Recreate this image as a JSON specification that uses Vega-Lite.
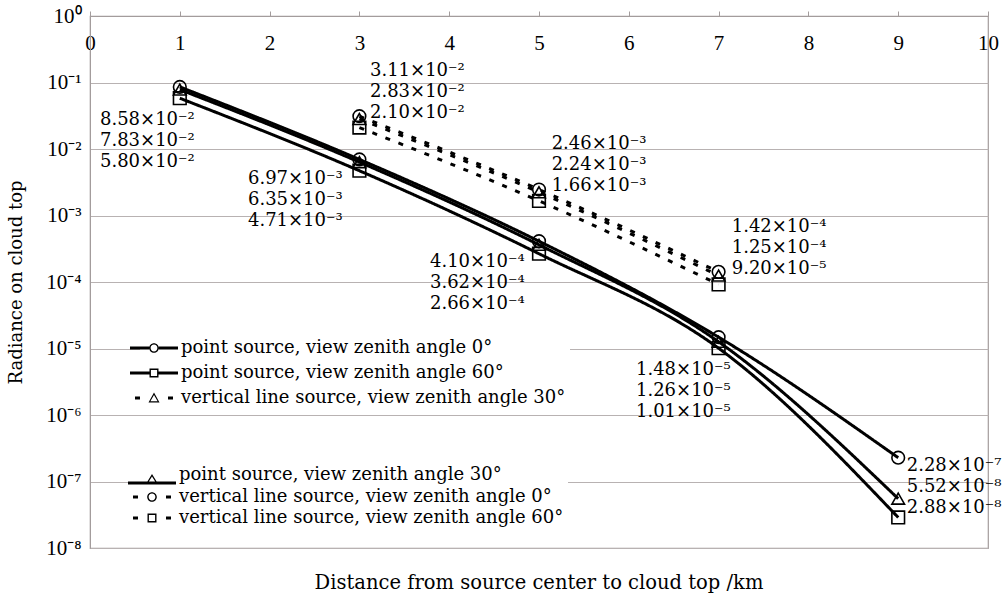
{
  "$schema": "https://vega.github.io/schema/vega-lite/v6.json",
  "width": 898,
  "height": 532,
  "autosize": {"type": "none"},
  "padding": {"left": 90, "top": 16, "right": 20, "bottom": 49},
  "background": "white",
  "config": {"view": {"stroke": "#a39c9c", "strokeWidth": 1.2}, "font": "Liberation Serif"},
  "title": {"text": "Distance from source center to cloud top /km", "orient": "bottom", "anchor": "middle", "frame": "group", "font": "DejaVu Serif", "fontSize": 19.5, "fontWeight": "normal", "color": "black", "offset": 16},
  "datasets": {
    "series": [
      {"x": 1, "y": 0.0858, "source": "point", "angle": 0, "series": "point source, view zenith angle 0°"},
      {"x": 3, "y": 0.00697, "source": "point", "angle": 0, "series": "point source, view zenith angle 0°"},
      {"x": 5, "y": 0.00041, "source": "point", "angle": 0, "series": "point source, view zenith angle 0°"},
      {"x": 7, "y": 0.0000148, "source": "point", "angle": 0, "series": "point source, view zenith angle 0°"},
      {"x": 9, "y": 0.000000228, "source": "point", "angle": 0, "series": "point source, view zenith angle 0°"},
      {"x": 1, "y": 0.0783, "source": "point", "angle": 30, "series": "point source, view zenith angle 30°"},
      {"x": 3, "y": 0.00635, "source": "point", "angle": 30, "series": "point source, view zenith angle 30°"},
      {"x": 5, "y": 0.000362, "source": "point", "angle": 30, "series": "point source, view zenith angle 30°"},
      {"x": 7, "y": 0.0000126, "source": "point", "angle": 30, "series": "point source, view zenith angle 30°"},
      {"x": 9, "y": 0.0000000552, "source": "point", "angle": 30, "series": "point source, view zenith angle 30°"},
      {"x": 1, "y": 0.058, "source": "point", "angle": 60, "series": "point source, view zenith angle 60°"},
      {"x": 3, "y": 0.00471, "source": "point", "angle": 60, "series": "point source, view zenith angle 60°"},
      {"x": 5, "y": 0.000266, "source": "point", "angle": 60, "series": "point source, view zenith angle 60°"},
      {"x": 7, "y": 0.0000101, "source": "point", "angle": 60, "series": "point source, view zenith angle 60°"},
      {"x": 9, "y": 0.0000000288, "source": "point", "angle": 60, "series": "point source, view zenith angle 60°"},
      {"x": 3, "y": 0.0311, "source": "line", "angle": 0, "series": "vertical line source, view zenith angle 0°"},
      {"x": 5, "y": 0.00246, "source": "line", "angle": 0, "series": "vertical line source, view zenith angle 0°"},
      {"x": 7, "y": 0.000142, "source": "line", "angle": 0, "series": "vertical line source, view zenith angle 0°"},
      {"x": 3, "y": 0.0283, "source": "line", "angle": 30, "series": "vertical line source, view zenith angle 30°"},
      {"x": 5, "y": 0.00224, "source": "line", "angle": 30, "series": "vertical line source, view zenith angle 30°"},
      {"x": 7, "y": 0.000125, "source": "line", "angle": 30, "series": "vertical line source, view zenith angle 30°"},
      {"x": 3, "y": 0.021, "source": "line", "angle": 60, "series": "vertical line source, view zenith angle 60°"},
      {"x": 5, "y": 0.00166, "source": "line", "angle": 60, "series": "vertical line source, view zenith angle 60°"},
      {"x": 7, "y": 0.000092, "source": "line", "angle": 60, "series": "vertical line source, view zenith angle 60°"}
    ],
    "labels": [
      {"x": 0.111, "y": 0.0373, "text": "8.58×10⁻²\n7.83×10⁻²\n5.80×10⁻²"},
      {"x": 1.759, "y": 0.00483, "text": "6.97×10⁻³\n6.35×10⁻³\n4.71×10⁻³"},
      {"x": 3.118, "y": 0.2055, "text": "3.11×10⁻²\n2.83×10⁻²\n2.10×10⁻²"},
      {"x": 5.141, "y": 0.01652, "text": "2.46×10⁻³\n2.24×10⁻³\n1.66×10⁻³"},
      {"x": 3.786, "y": 0.000273, "text": "4.10×10⁻⁴\n3.62×10⁻⁴\n2.66×10⁻⁴"},
      {"x": 7.146, "y": 0.000917, "text": "1.42×10⁻⁴\n1.25×10⁻⁴\n9.20×10⁻⁵"},
      {"x": 6.08, "y": 0.00000649, "text": "1.48×10⁻⁵\n1.26×10⁻⁵\n1.01×10⁻⁵"},
      {"x": 9.095, "y": 0.000000236, "text": "2.28×10⁻⁷\n5.52×10⁻⁸\n2.88×10⁻⁸"}
    ]
  },
  "encoding": {
    "x": {"field": "x", "type": "quantitative", "scale": {"domain": [0, 10], "nice": false},
      "axis": {"orient": "top", "values": [0, 1, 2, 3, 4, 5, 6, 7, 8, 9, 10], "format": "d", "grid": false, "domainColor": "#a39c9c", "tickColor": "#a39c9c", "tickSize": 5, "labelPadding": -32, "labelBaseline": "middle", "labelFont": "Liberation Serif", "labelFontSize": 21, "labelColor": "black", "labelFlush": false, "labelOverlap": false, "title": null}},
    "y": {"field": "y", "type": "quantitative", "scale": {"type": "log", "domain": [0.00000001, 1], "nice": false},
      "axis": {"orient": "left", "values": [0.00000001, 0.0000001, 0.000001, 0.00001, 0.0001, 0.001, 0.01, 0.1, 1], "grid": true, "gridColor": "#b8b2b2", "gridWidth": 1, "ticks": false, "domainColor": "#a39c9c", "labelPadding": 9, "labelFont": "Liberation Serif", "labelFontSize": 21, "labelColor": "black", "labelBaseline": "middle", "labelOverlap": false,
        "labelExpr": "['10⁰','10⁻¹','10⁻²','10⁻³','10⁻⁴','10⁻⁵','10⁻⁶','10⁻⁷','10⁻⁸'][round(-log(datum.value)/LN10)]",
        "title": "Radiance on cloud top", "titleFont": "DejaVu Serif", "titleFontSize": 18, "titleFontWeight": "normal", "titleColor": "black", "titleX": -74, "titleBaseline": "middle"}}
  },
  "layer": [
    {
      "data": {"name": "series"},
      "mark": {"type": "line", "interpolate": "monotone", "strokeWidth": 3, "color": "black"},
      "encoding": {
        "detail": {"field": "series"},
        "strokeDash": {"field": "source", "type": "nominal", "scale": {"domain": ["point", "line"], "range": [[1, 0], [5, 9]]}, "legend": null}
      }
    },
    {
      "data": {"name": "series"},
      "mark": {"type": "point", "filled": false, "size": 160, "strokeWidth": 1.6, "color": "black", "opacity": 1},
      "encoding": {
        "shape": {"field": "angle", "type": "nominal", "scale": {"domain": [0, 30, 60], "range": ["circle", "triangle-up", "square"]}, "legend": null}
      }
    },
    {
      "data": {"name": "series"},
      "transform": [{"filter": {"field": "series", "oneOf": ["point source, view zenith angle 0°", "point source, view zenith angle 60°", "vertical line source, view zenith angle 30°"]}}],
      "mark": {"type": "point", "filled": true, "opacity": 0, "color": "black"},
      "encoding": {
        "shape": {"field": "series", "type": "nominal",
          "scale": {"domain": ["point source, view zenith angle 0°", "point source, view zenith angle 60°", "vertical line source, view zenith angle 30°"],
            "range": [
              "M-2.4,-0.15H-0.48V0.15H-2.4ZM0.48,-0.15H2.4V0.15H0.48ZM0.48,0A0.48,0.48,0,1,1,-0.48,0A0.48,0.48,0,1,1,0.48,0ZM0.34,0A0.34,0.34,0,1,0,-0.34,0A0.34,0.34,0,1,0,0.34,0Z",
              "M-2.4,-0.15H-0.45V0.15H-2.4ZM0.45,-0.15H2.4V0.15H0.45ZM-0.45,-0.45H0.45V0.45H-0.45ZM-0.31,-0.31V0.31H0.31V-0.31Z",
              "M-1.9,-0.15H-1.4V0.15H-1.9ZM1.4,-0.15H1.9V0.15H1.4ZM0,-0.55L0.55,0.45L-0.55,0.45ZM0,-0.3L-0.36,0.32L0.36,0.32Z"
            ]},
          "legend": {"orient": "none", "legendX": 50, "legendY": 318, "title": null, "symbolSize": 400, "labelFont": "DejaVu Serif", "labelFontSize": 18, "labelColor": "black", "labelOffset": 17, "rowPadding": 6, "padding": 4, "fillColor": "white", "labelLimit": 600, "symbolStrokeWidth": 0, "symbolFillColor": "black", "symbolOpacity": 1,
            "encode": {"symbols": {"update": {"opacity": {"value": 1}, "fill": {"value": "black"}, "stroke": {"value": "transparent"}, "strokeWidth": {"value": 0}}}}}
        }
      }
    },
    {
      "data": {"name": "series"},
      "transform": [{"filter": {"field": "series", "oneOf": ["point source, view zenith angle 30°", "vertical line source, view zenith angle 0°", "vertical line source, view zenith angle 60°"]}}],
      "mark": {"type": "point", "filled": true, "opacity": 0, "color": "black"},
      "encoding": {
        "shape": {"field": "series", "type": "nominal",
          "scale": {"domain": ["point source, view zenith angle 30°", "vertical line source, view zenith angle 0°", "vertical line source, view zenith angle 60°"],
            "range": [
              "M-2.4,0.65H2.4V0.95H-2.4ZM0,-0.1L0.55,0.8L-0.55,0.8ZM0,0.15L-0.33,0.67L0.33,0.67Z",
              "M-1.9,-0.15H-1.4V0.15H-1.9ZM1.4,-0.15H1.9V0.15H1.4ZM0.48,0A0.48,0.48,0,1,1,-0.48,0A0.48,0.48,0,1,1,0.48,0ZM0.34,0A0.34,0.34,0,1,0,-0.34,0A0.34,0.34,0,1,0,0.34,0Z",
              "M-1.9,-0.15H-1.4V0.15H-1.9ZM1.4,-0.15H1.9V0.15H1.4ZM-0.45,-0.45H0.45V0.45H-0.45ZM-0.31,-0.31V0.31H0.31V-0.31Z"
            ]},
          "legend": {"orient": "none", "legendX": 48, "legendY": 445, "title": null, "symbolSize": 400, "labelFont": "DejaVu Serif", "labelFontSize": 18, "labelColor": "black", "labelOffset": 17, "rowPadding": 2, "padding": 4, "fillColor": "white", "labelLimit": 600, "symbolStrokeWidth": 0, "symbolFillColor": "black", "symbolOpacity": 1,
            "encode": {"symbols": {"update": {"opacity": {"value": 1}, "fill": {"value": "black"}, "stroke": {"value": "transparent"}, "strokeWidth": {"value": 0}}}}}
        }
      }
    },
    {
      "data": {"name": "labels"},
      "mark": {"type": "text", "align": "left", "baseline": "top", "font": "DejaVu Serif", "fontSize": 18, "lineHeight": 21, "lineBreak": "\n", "color": "black"},
      "encoding": {
        "text": {"field": "text", "type": "nominal"}
      }
    }
  ],
  "resolve": {"scale": {"shape": "independent"}, "legend": {"shape": "independent"}}
}
